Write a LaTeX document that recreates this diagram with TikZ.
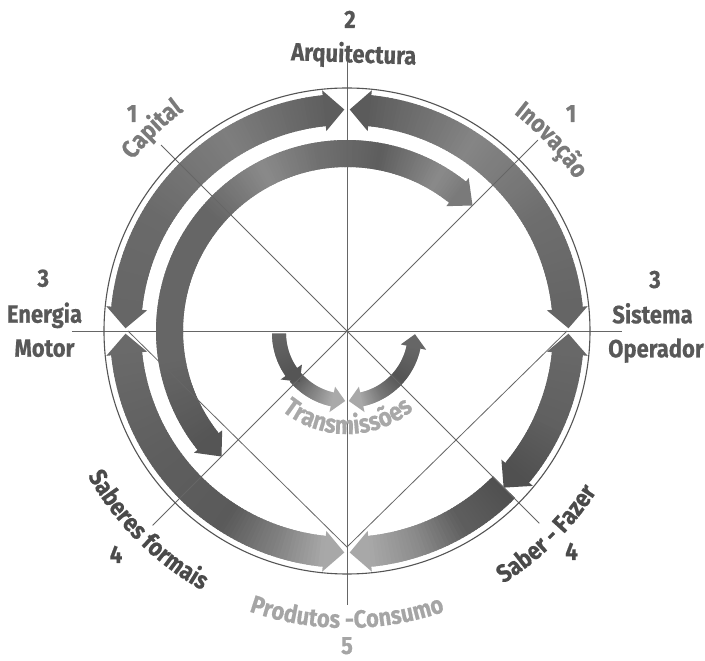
\documentclass[tikz,border=0pt]{standalone}
\usepackage{fontspec}
\newfontfamily\lblfam[FakeStretch=0.88, FakeBold=0.5]{Fira Sans}
\usetikzlibrary{decorations.text}
\newcommand\lbl{\lblfam\bfseries\fontsize{25}{28}\selectfont}
\newcommand\lblbig{\lblfam\bfseries\fontsize{26}{29}\selectfont}
\newcommand\defg[1]{\definecolor{c#1}{HTML}{#1#1#1}}
\defg{4A}\defg{50}\defg{55}\defg{58}\defg{5A}\defg{5B}\defg{5E}\defg{60}\defg{65}\defg{66}\defg{68}\defg{6A}\defg{6E}\defg{70}\defg{77}\defg{7A}\defg{7E}\defg{80}\defg{85}\defg{8A}\defg{A5}\defg{A8}\defg{AA}
% annular band with colour running from #5 (at angle #1) to #6 (at angle #2)
\newcommand\myband[6]{%
  \pgfmathtruncatemacro\myN{max(1,round(abs((#2)-(#1))/1.0))}%
  \pgfmathsetmacro\myS{((#2)-(#1))/\myN}%
  \pgfmathsetmacro\myRi{(#3)-(#4)}%
  \pgfmathsetmacro\myRo{(#3)+(#4)}%
  \foreach \myi in {1,...,\myN}{%
    \pgfmathsetmacro\myTa{(#1)+\myS*(\myi-1)-0.7*\myS}%
    \pgfmathsetmacro\myTb{(#1)+\myS*\myi}%
    \pgfmathtruncatemacro\myPc{100*(\myi-0.5)/\myN}%
    \fill[#6!\myPc!#5] (\myTa:\myRi) arc[start angle=\myTa, end angle=\myTb, radius=\myRi] -- (\myTb:\myRo) arc[start angle=\myTb, end angle=\myTa, radius=\myRo] -- cycle;
  }%
}
% arrow head: tip angle, base angle, radius, half width, colour
\newcommand\myhead[5]{%
  \pgfmathsetmacro\myHo{(#3)+(#4)}%
  \pgfmathsetmacro\myHi{(#3)-(#4)}%
  \fill[#5] (#1:#3) -- (#2:\myHo) -- (#2:\myHi) -- cycle;
}
\begin{document}
\begin{tikzpicture}[x=1pt,y=1pt,
  lbl/.style={font=\lbl, inner sep=0pt, anchor=base},
  axisline/.style={draw=c66, line width=0.8pt},
  rim/.style={draw=c55, line width=1.1pt}]
\useasboundingbox (-347,-330) rectangle (358,331);
\fill[white] (-347,-330) rectangle (358,331);

% ---------- outer ring of arrows ----------
% bottom-right, lower part
\myband{-45.5}{-60}{221.5}{15.5}{c50}{c5E}
\myband{-60}{-72}{221.5}{15.5}{c5E}{c8A}
\myband{-72}{-84.6}{221.5}{15.5}{c8A}{cA8}
\myhead{-89.3}{-84.1}{221.5}{20.5}{cA8}
% bottom-right, upper part
\myband{-5.4}{-25}{221.5}{15.5}{c68}{c60}
\myband{-25}{-40.3}{221.5}{15.5}{c60}{c50}
\myhead{-0.7}{-5.9}{221.5}{20.5}{c68}
\myhead{-45}{-39.8}{221.5}{20.5}{c50}
% top-left (Capital)
\myband{95.4}{122}{221.5}{15.5}{c5E}{c7E}
\myband{122}{150}{221.5}{15.5}{c7E}{c6A}
\myband{150}{174.6}{221.5}{15.5}{c6A}{c66}
\myhead{90.7}{95.9}{221.5}{20.5}{c5E}
\myhead{179.3}{174.1}{221.5}{20.5}{c66}
% top-right (Inovacao)
\myband{84.6}{56}{221.5}{15.5}{c5B}{c85}
\myband{56}{30}{221.5}{15.5}{c85}{c6E}
\myband{30}{5.4}{221.5}{15.5}{c6E}{c65}
\myhead{89.3}{84.1}{221.5}{20.5}{c5B}
\myhead{0.7}{5.9}{221.5}{20.5}{c65}
% bottom-left (Saberes formais)
\myband{185.4}{215}{221.5}{15.5}{c6A}{c5E}
\myband{215}{238}{221.5}{15.5}{c5E}{c5A}
\myband{238}{252}{221.5}{15.5}{c5A}{c80}
\myband{252}{264.6}{221.5}{15.5}{c80}{cA8}
\myhead{180.7}{185.9}{221.5}{20.5}{c6A}
\myhead{269.3}{264.1}{221.5}{20.5}{cA8}

% ---------- inner big arc ----------
\myband{51}{60}{177.5}{13.5}{c7A}{c8A}
\myband{60}{80}{177.5}{13.5}{c8A}{c5E}
\myband{80}{100}{177.5}{13.5}{c5E}{c70}
\myband{100}{118}{177.5}{13.5}{c70}{c8A}
\myband{118}{140}{177.5}{13.5}{c8A}{c66}
\myband{140}{190}{177.5}{13.5}{c66}{c66}
\myband{190}{219}{177.5}{13.5}{c66}{c55}
\myhead{45}{51.5}{177.5}{18}{c7A}
\myhead{225}{218.5}{177.5}{18}{c55}

% ---------- small arrows (Transmissoes) ----------
\begin{scope}[shift={(0,-2)}]
  \myband{221}{258}{68}{7}{c55}{cAA}
  \myhead{268.5}{257.5}{68}{13}{cAA}
  \myband{181}{215.5}{68}{7}{c66}{c55}
  \myhead{226}{215}{68}{13}{c55}
  \myband{282}{300}{68}{7}{cA8}{c77}
  \myband{300}{320}{68}{7}{c77}{c55}
  \myband{320}{348.5}{68}{7}{c55}{c66}
  \myhead{271.5}{282.5}{68}{13}{cA8}
  \myhead{359}{348}{68}{13}{c66}
\end{scope}

% ---------- thin lines and rim ----------
\coordinate (ctr) at (0,0);
\coordinate (vt) at (90:269);  \coordinate (vb) at (270:274);
\coordinate (hl) at (180:275); \coordinate (hr) at (0:275);
\coordinate (nw) at (135:263); \coordinate (se) at (315:272);
\coordinate (ne) at (45:270);  \coordinate (sw) at (225:275);
\coordinate (dl) at (180:219); \coordinate (db) at (270:216); \coordinate (dr) at (0:220);
\draw[axisline] (vt) -- (vb);
\draw[axisline] (hl) -- (hr);
\draw[axisline] (nw) -- (se);
\draw[axisline] (ne) -- (sw);
\draw[axisline] (dl) -- (db) -- (dr);
\draw[rim] (ctr) circle[radius=243];

% ---------- straight labels ----------
\node[lbl, text=c55] (n2) at (3,303) {2};
\node[lbl, text=c55, rotate=-2] (arq) at (6.5,268.5) {Arquitectura};
\node[lbl, text=c58] (n3l) at (-303.7,44.3) {3};
\node[lbl, text=c58] (ene) at (-302.5,8.3) {Energia};
\node[lbl, text=c58] (mot) at (-302.5,-25.7) {Motor};
\node[lbl, text=c58] (n3r) at (308,43) {3};
\node[lbl, text=c58] (sis) at (305.5,7.7) {Sistema};
\node[lbl, text=c58] (ope) at (309,-26.3) {Operador};
\node[lbl, text=c7A] (n1l) at (-215,209) {1};
\node[lbl, text=c7A] (n1r) at (224,209) {1};
\node[lbl, text=c4A] (n4l) at (-231,-232) {4};
\node[lbl, text=c4A] (n4r) at (224.5,-229) {4};
\node[lbl, text=cA5] (n5) at (0,-323) {5};

% ---------- curved labels ----------
\path[decorate, decoration={text along path, text align=center,
  text={|\lbl\color{c7A}|Capital}}] (165:274) arc[start angle=165, end angle=103, radius=274];
\path[decorate, decoration={text along path, text align=center,
  text={|\lbl\color{c7A}|Inovação}}] (74:274) arc[start angle=74, end angle=12, radius=274];
\path[decorate, decoration={text along path, text align=center,
  text={|\lbl\color{c4A}|Saberes formais}}] (195:297) arc[start angle=195, end angle=255, radius=297];
\path[decorate, decoration={text along path, text align=center,
  text={|\lbl\color{c4A}|Saber - Fazer}}] (285:297) arc[start angle=285, end angle=344, radius=297];
\path[decorate, decoration={text along path, text align=center,
  text={|\lbl\color{cA5}|Produtos -Consumo}}] (240:297) arc[start angle=240, end angle=300, radius=297];
\path[decorate, decoration={text along path, text align=center,
  text={|\lblbig\color{cA8}|Transmissões}}] (200:103) arc[start angle=200, end angle=341, radius=103];
\end{tikzpicture}
\end{document}
